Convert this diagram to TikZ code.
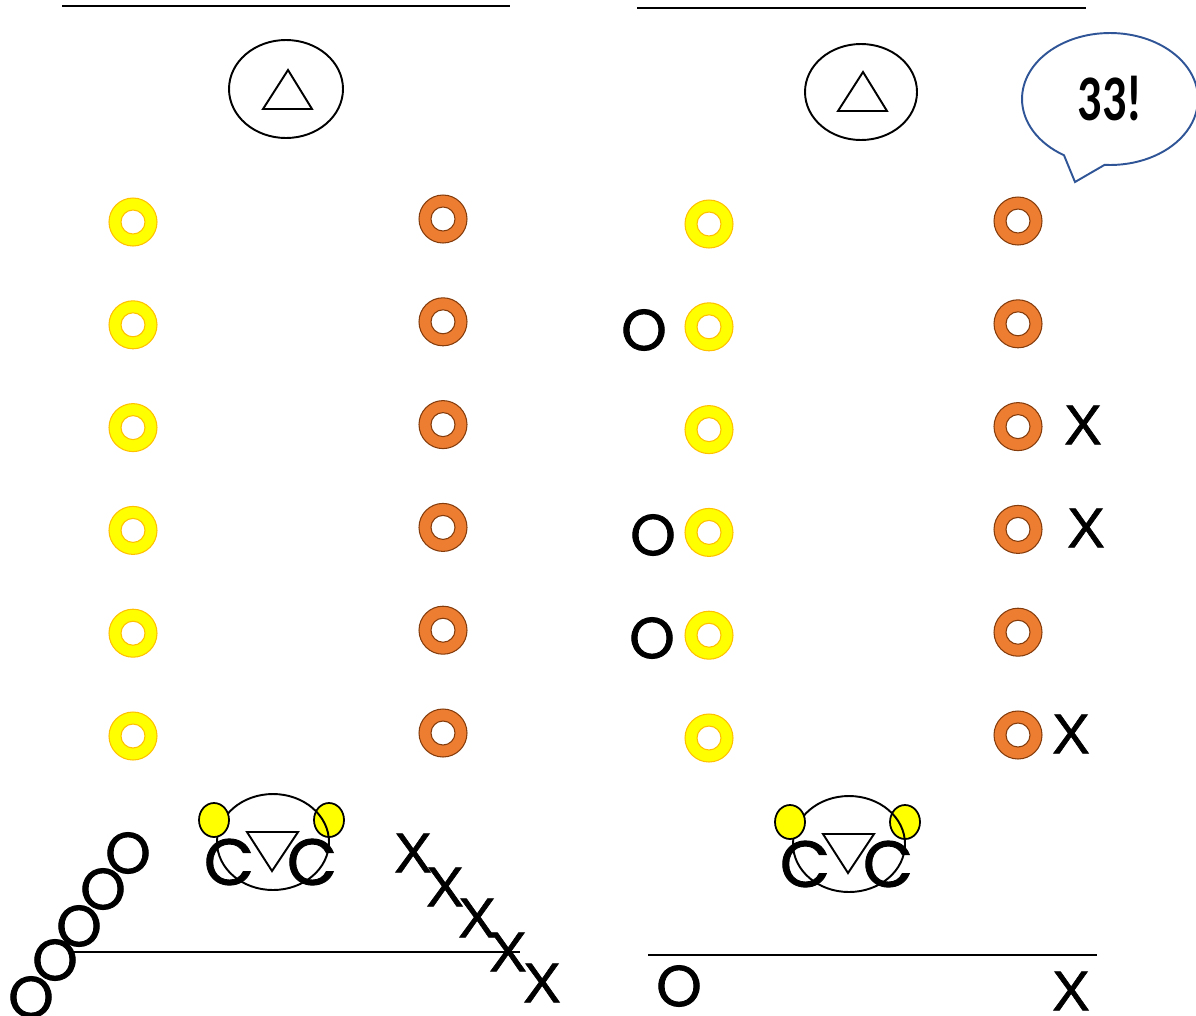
\documentclass[tikz,border=0pt]{standalone}
\usepackage{graphicx}
\usepackage{fontspec}
\usetikzlibrary{shapes.callouts}
\newfontfamily\piecefont[FakeBold=1.4]{Poppins}
\newfontfamily\crossfont[FakeBold=1.2]{Liberation Sans}
\newfontfamily\bubblefont{Carlito}
\definecolor{ringyellow}{HTML}{FFFF00}
\definecolor{ringgold}{HTML}{FFC000}
\definecolor{ringorange}{HTML}{ED7D31}
\definecolor{ringbrown}{HTML}{843C0C}
\definecolor{bubbleblue}{HTML}{2F5597}

\begin{document}
\begin{tikzpicture}[x=0.02cm,y=-0.02cm,
  yring/.style={fill=ringyellow,draw=ringgold,line width=0.6pt,even odd rule},
  oring/.style={fill=ringorange,draw=ringbrown,line width=0.6pt,even odd rule},
  outline/.style={draw=black,line width=1.1pt},
  ear/.style={fill=ringyellow,draw=black,line width=1pt},
  piece/.style={font=\piecefont\fontsize{33}{33}\selectfont,inner sep=0pt},
  cross/.style={font=\crossfont\fontsize{32}{32}\selectfont,inner sep=0pt},
  facec/.style={font=\piecefont\fontsize{37}{37}\selectfont,inner sep=0pt}]
\useasboundingbox (0,0) rectangle (1196,1015);
% side lines
\draw[line width=1.6pt] (62,6) -- (510,6);
\draw[line width=1.6pt] (637,8) -- (1086,8);
\draw[line width=1.6pt] (72,952) -- (520,952);
\draw[line width=1.6pt] (648,955) -- (1097,955);
% top marks
\draw[outline] (286,89) ellipse (57 and 49);
\draw[outline] (288,70) -- (312,109) -- (263,109) -- cycle;
\draw[outline] (861,92) ellipse (56 and 48);
\draw[outline] (863,72) -- (887,111) -- (838,111) -- cycle;
% rings
\foreach \row in {0,...,5} {
  \filldraw[yring] (133,{222+102.8*\row}) circle (24) circle (12);
  \filldraw[oring] (443,{219+102.8*\row}) circle (24) circle (12);
  \filldraw[yring] (709,{224+102.8*\row}) circle (24) circle (12);
  \filldraw[oring] (1018,{221+102.8*\row}) circle (24) circle (12);
}
% faces
\foreach \fx/\fy in {0/0,576/2} {
  \begin{scope}[shift={(\fx,\fy)}]
  \filldraw[ear] (329,820) ellipse (15 and 17);
  \draw[outline] (273,842) ellipse (56 and 48);
  \filldraw[ear] (214,820) ellipse (15 and 17);
  \node[facec] (lc\fx) at (229,862) {C};
  \node[facec] (rc\fx) at (312,862) {C};
  \draw[outline] (247,832) -- (298,832) -- (272,871) -- cycle;
  \end{scope}
}
% left bottom
\node[piece] (o1) at (128,853) {O};
\node[piece] (o2) at (103,889) {O};
\node[piece] (o3) at (79,926) {O};
\node[piece] (o4) at (55,960) {O};
\node[piece] (o5) at (31,997) {O};
\node[cross] (x1) at (413,853) {X};
\node[cross] (x2) at (445,887) {X};
\node[cross] (x3) at (477,918) {X};
\node[cross] (x4) at (508,952) {X};
\node[cross] (x5) at (542,983) {X};
% right side
\node[piece] (ro1) at (644,330) {O};
\node[piece] (ro2) at (653,535) {O};
\node[piece] (ro3) at (652,638) {O};
\node[cross] (rx1) at (1083,425) {X};
\node[cross] (rx2) at (1086,528) {X};
\node[cross] (rx3) at (1071,734) {X};
\node[piece] (bo) at (679,986) {O};
\node[cross] (bx) at (1071,991) {X};
% bubble
\node[ellipse callout,draw=bubbleblue,line width=1.1pt,
  minimum width=3.52cm,minimum height=2.64cm,
  callout absolute pointer={(1075,182)},callout pointer arc=28]
  (bubble) at (1110,99) {\bubblefont\bfseries\fontsize{37}{37}\selectfont\scalebox{0.74}[1]{33!}};
\end{tikzpicture}
\end{document}
